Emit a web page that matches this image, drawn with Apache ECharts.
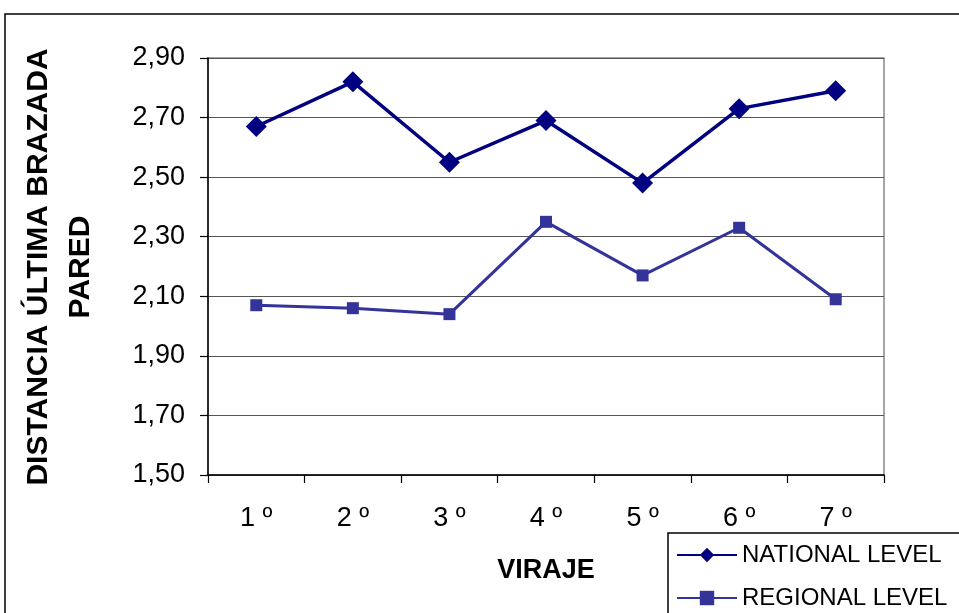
<!DOCTYPE html>
<html>
<head>
<meta charset="utf-8">
<script src="https://cdn.jsdelivr.net/npm/echarts@6/dist/echarts.min.js"></script>
<style>
  html, body { margin: 0; padding: 0; background: #fff; }
  #chart { width: 959px; height: 613px; }
</style>
</head>
<body>
<div id="chart"></div>
<script>
// Turn number (viraje) categories
const virajes = ['1 º', '2 º', '3 º', '4 º', '5 º', '6 º', '7 º'];
// Distance of the last stroke to the wall, per level
const nationalLevel = [2.67, 2.82, 2.55, 2.69, 2.48, 2.73, 2.79];
const regionalLevel = [2.07, 2.06, 2.04, 2.35, 2.17, 2.33, 2.09];
// Value axis range
const yMin = 1.5;
const yMax = 2.9;
const yStep = 0.2;

const fontFamily = 'Arial, "Liberation Sans", sans-serif';
const chart = echarts.init(document.getElementById('chart'));

chart.setOption({
  animation: false,
  backgroundColor: '#ffffff',
  textStyle: { fontFamily: fontFamily },
  graphic: [
    {
      type: 'rect',
      z: -10,
      shape: { x: 5, y: 14, width: 1100, height: 800 },
      style: { fill: 'none', stroke: '#000', lineWidth: 1.5 }
    },
    {
      type: 'text',
      x: 39, y: 267,
      rotation: Math.PI / 2,
      style: {
        text: 'DISTANCIA ÚLTIMA BRAZADA',
        font: 'bold 30px ' + fontFamily,
        fill: '#000',
        align: 'center',
        verticalAlign: 'middle'
      }
    },
    {
      type: 'text',
      x: 81, y: 267,
      rotation: Math.PI / 2,
      style: {
        text: 'PARED',
        font: 'bold 30px ' + fontFamily,
        fill: '#000',
        align: 'center',
        verticalAlign: 'middle'
      }
    }
  ],
  grid: {
    left: 208, right: 75, top: 58, bottom: 138,
    show: true,
    borderColor: '#888',
    borderWidth: 1.5,
    backgroundColor: 'transparent'
  },
  legend: {
    orient: 'vertical',
    left: 668, top: 533,
    height: 200,
    padding: [10, 40, 30, 8],
    itemWidth: 60,
    itemHeight: 18,
    itemGap: 19,
    borderColor: '#000',
    borderWidth: 1.5,
    textStyle: { fontSize: 24, color: '#000', fontFamily: fontFamily },
    data: ['NATIONAL LEVEL', 'REGIONAL LEVEL']
  },
  xAxis: {
    type: 'category',
    data: virajes,
    boundaryGap: true,
    name: 'VIRAJE',
    nameLocation: 'middle',
    nameGap: 82,
    nameTextStyle: { fontSize: 27, fontWeight: 'bold', color: '#000', fontFamily: fontFamily },
    axisLine: { lineStyle: { color: '#000', width: 1.5 } },
    axisTick: { show: true, alignWithLabel: false, length: 8, lineStyle: { color: '#000', width: 1.2 } },
    axisLabel: { color: '#000', fontSize: 27, margin: 30, fontFamily: fontFamily },
    splitLine: { show: false }
  },
  yAxis: {
    type: 'value',
    min: yMin,
    max: yMax,
    interval: yStep,
    axisLine: { show: true, lineStyle: { color: '#000', width: 1.5 } },
    axisTick: { show: true, length: 8, lineStyle: { color: '#000', width: 1.2 } },
    axisLabel: {
      color: '#000', fontSize: 27, margin: 23, fontFamily: fontFamily,
      formatter: function (v) { return v.toFixed(2).replace('.', ','); }
    },
    splitLine: { show: true, lineStyle: { color: '#555', width: 1.2 } }
  },
  series: [
    {
      name: 'NATIONAL LEVEL',
      type: 'line',
      data: nationalLevel,
      symbol: 'diamond',
      symbolSize: 21,
      color: '#000080',
      lineStyle: { color: '#000080', width: 3.5 },
      itemStyle: { color: '#000080' }
    },
    {
      name: 'REGIONAL LEVEL',
      type: 'line',
      data: regionalLevel,
      symbol: 'rect',
      symbolSize: 12,
      color: '#333399',
      lineStyle: { color: '#333399', width: 3 },
      itemStyle: { color: '#333399' }
    }
  ]
});
</script>
</body>
</html>
